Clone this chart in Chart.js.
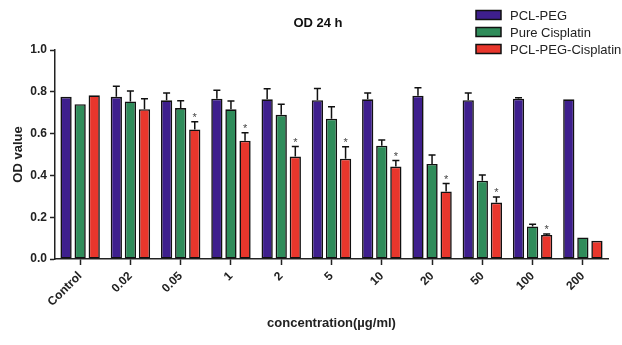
<!DOCTYPE html>
<html>
<head>
<meta charset="utf-8">
<script src="https://cdn.jsdelivr.net/npm/chart.js@4.4.1/dist/chart.umd.min.js"></script>
<style>
  html, body { margin: 0; padding: 0; background: #fff; }
  #wrap { width: 622px; height: 345px; }
</style>
</head>
<body>
<div id="wrap"><canvas id="odChart" width="622" height="345"></canvas></div>
<script>
// Chart data
const concentrations = ['Control', '0.02', '0.05', '1', '2', '5', '10', '20', '50', '100', '200'];

const pclPeg = [0.776, 0.776, 0.759, 0.767, 0.764, 0.760, 0.764, 0.781, 0.760, 0.767, 0.764];
const pclPegErr = [0, 0.050, 0.035, 0.040, 0.050, 0.056, 0.030, 0.038, 0.034, 0.005, 0];

const pureCisplatin = [0.741, 0.754, 0.722, 0.716, 0.690, 0.671, 0.542, 0.455, 0.375, 0.156, 0.103];
const pureCisplatinErr = [0, 0.050, 0.035, 0.040, 0.050, 0.057, 0.027, 0.043, 0.027, 0.010, 0];

const pclPegCisplatin = [0.783, 0.717, 0.620, 0.566, 0.490, 0.480, 0.442, 0.323, 0.270, 0.115, 0.087];
const pclPegCisplatinErr = [0, 0.050, 0.037, 0.038, 0.048, 0.057, 0.029, 0.038, 0.027, 0.005, 0];

// which PCL-PEG-Cisplatin bars carry a significance star
const starred = [false, false, true, true, true, true, true, true, true, true, false];

const yTicks = [0, 0.2, 0.4, 0.6, 0.8, 1.0];

const colors = {
    purple: '#3e1f8d',
    green: '#2f8c5a',
    red: '#e8362c'
};

const FONT = 'Arial, "Liberation Sans", sans-serif';

/**
 * Upward error bars + stars, drawn from the bar elements
 */
const errorBarPlugin = {
    id: 'errorBars',
    afterDatasetsDraw(chart) {
        const ctx = chart.ctx;
        const yScale = chart.scales.y;
        ctx.save();
        ctx.strokeStyle = '#111';
        ctx.lineWidth = 1.5;
        chart.data.datasets.forEach((ds, i) => {
            const meta = chart.getDatasetMeta(i);
            meta.data.forEach((bar, j) => {
                const err = ds.errors[j];
                const top = yScale.getPixelForValue(ds.data[j] + err);
                if (err > 0) {
                    ctx.beginPath();
                    ctx.moveTo(bar.x, bar.y);
                    ctx.lineTo(bar.x, top);
                    ctx.moveTo(bar.x - 3.5, top);
                    ctx.lineTo(bar.x + 3.5, top);
                    ctx.stroke();
                }
                if (ds.stars && ds.stars[j]) {
                    ctx.fillStyle = '#444';
                    ctx.font = '11px ' + FONT;
                    ctx.textAlign = 'center';
                    ctx.textBaseline = 'alphabetic';
                    ctx.fillText('*', bar.x, top - 1);
                }
            });
        });
        ctx.restore();
    }
};

/**
 * Title and legend in the top area
 */
const headerPlugin = {
    id: 'header',
    afterDraw(chart) {
        const ctx = chart.ctx;
        ctx.save();
        ctx.fillStyle = '#111';
        ctx.font = 'bold 13px ' + FONT;
        ctx.textAlign = 'center';
        ctx.textBaseline = 'middle';
        ctx.fillText('OD 24 h', 318, 23);

        ctx.font = '13px ' + FONT;
        ctx.textAlign = 'left';
        chart.data.datasets.forEach((ds, i) => {
            const y = 15 + i * 17;
            ctx.fillStyle = ds.backgroundColor;
            ctx.fillRect(476, y - 4.5, 25, 9);
            ctx.strokeStyle = '#111';
            ctx.lineWidth = 1.5;
            ctx.strokeRect(476, y - 4.5, 25, 9);
            ctx.fillStyle = '#222';
            ctx.fillText(ds.label, 510, y + 1);
        });
        ctx.restore();
    }
};

const makeSet = (label, data, errors, color, stars) => ({
    label: label,
    data: data,
    errors: errors,
    stars: stars,
    backgroundColor: color,
    borderColor: '#111',
    borderWidth: 1.6,
    borderSkipped: false
});

new Chart(document.getElementById('odChart'), {
    type: 'bar',
    data: {
        labels: concentrations,
        datasets: [
            makeSet('PCL-PEG', pclPeg, pclPegErr, colors.purple),
            makeSet('Pure Cisplatin', pureCisplatin, pureCisplatinErr, colors.green),
            makeSet('PCL-PEG-Cisplatin', pclPegCisplatin, pclPegCisplatinErr, colors.red, starred)
        ]
    },
    options: {
        responsive: false,
        animation: false,
        categoryPercentage: 0.84,
        barPercentage: 0.8,
        layout: {
            padding: { top: 50, right: 14, left: 0, bottom: 0 }
        },
        plugins: {
            legend: { display: false },
            title: { display: false },
            tooltip: { enabled: false }
        },
        scales: {
            x: {
                grid: {
                    offset: false,
                    drawOnChartArea: false,
                    drawTicks: true,
                    tickLength: 6,
                    tickWidth: 1.5,
                    tickColor: '#222'
                },
                border: { color: '#222', width: 1.5 },
                ticks: {
                    minRotation: 45,
                    maxRotation: 45,
                    padding: 4,
                    color: '#222',
                    font: { family: FONT, size: 12, weight: 'bold' }
                },
                title: {
                    display: true,
                    text: 'concentration(µg/ml)',
                    color: '#222',
                    padding: { top: 0, bottom: 14 },
                    font: { family: FONT, size: 13, weight: 'bold' }
                },
                afterFit: s => { s.height = 86; }
            },
            y: {
                min: 0,
                max: 1.0,
                afterBuildTicks: s => { s.ticks = yTicks.map(v => ({ value: v })); },
                grid: {
                    drawOnChartArea: false,
                    drawTicks: true,
                    tickLength: 5,
                    tickWidth: 1.5,
                    tickColor: '#222'
                },
                border: { color: '#222', width: 1.5 },
                ticks: {
                    padding: 3,
                    color: '#222',
                    callback: v => v.toFixed(1),
                    font: { family: FONT, size: 12, weight: 'bold' }
                },
                title: {
                    display: true,
                    text: 'OD value',
                    color: '#222',
                    padding: { top: 11, bottom: 0 },
                    font: { family: FONT, size: 13, weight: 'bold' }
                },
                afterFit: s => { s.width = 55; }
            }
        }
    },
    plugins: [errorBarPlugin, headerPlugin]
});
</script>
</body>
</html>
